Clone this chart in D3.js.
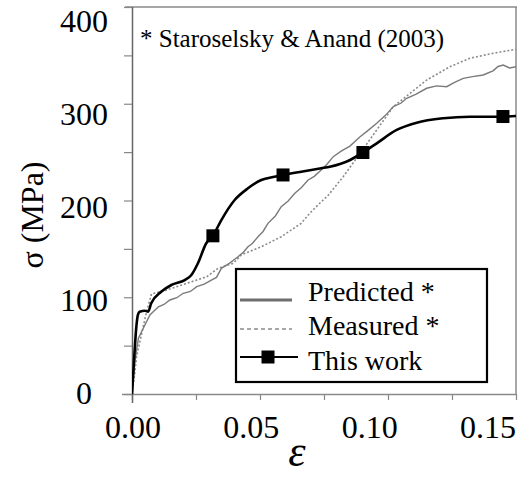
<!DOCTYPE html>
<html>
<head>
<meta charset="utf-8">
<script src="https://cdn.jsdelivr.net/npm/d3@7"></script>
<style>
  html, body { margin: 0; padding: 0; background: #fff; }
  svg { display: block; }
</style>
</head>
<body>
<svg id="chart" width="519" height="477"></svg>
<script>
// ---- data ----
const strainThis = [0, 0.0008, 0.0017, 0.0023, 0.0030, 0.0050, 0.0063, 0.0075, 0.0114, 0.0154, 0.0206, 0.0232, 0.0258, 0.0290, 0.0316, 0.0349, 0.0401, 0.0453, 0.0505, 0.0557, 0.0590, 0.0661, 0.0739, 0.0773, 0.0852, 0.0901, 0.0956, 0.1034, 0.1112, 0.1216, 0.1320, 0.1448, 0.1500];
const stressThis = [0, 35, 69.6, 81.7, 85.1, 86.1, 85.1, 93.7, 105.7, 112.7, 117.8, 123.0, 135.4, 155.8, 163.6, 179.8, 200.5, 212.6, 221.2, 224.6, 226.4, 229.8, 233.3, 234.9, 241.9, 249.4, 259.1, 272.9, 280.4, 285.0, 286.6, 286.6, 287.3];
const markerStrain = [0.0316, 0.0590, 0.0902, 0.1449];
const markerStress = [163.5, 226.4, 249.6, 286.8];

const strainPred = [0, 0.0012, 0.0025, 0.0044, 0.0070, 0.0103, 0.0125, 0.0148, 0.0175, 0.0200, 0.0228, 0.0253, 0.0282, 0.0310, 0.0330, 0.0349, 0.0380, 0.0414, 0.0435, 0.0453, 0.0470, 0.0492, 0.0512, 0.0531, 0.0560, 0.0583, 0.0610, 0.0636, 0.0660, 0.0688, 0.0712, 0.0739, 0.0760, 0.0786, 0.0820, 0.0850, 0.0891, 0.0920, 0.0956, 0.0990, 0.1021, 0.1050, 0.1073, 0.1110, 0.1151, 0.1190, 0.1229, 0.1260, 0.1294, 0.1330, 0.1372, 0.1410, 0.1430, 0.1450, 0.1475, 0.1500];
const stressPred = [0, 35.1, 57.6, 67.9, 81.7, 90.2, 92.5, 97.2, 99.5, 104.1, 106.0, 110.9, 113.5, 117.8, 120.5, 129.9, 135.0, 141.9, 146.5, 152.2, 155.5, 162.6, 168.0, 176.4, 184.0, 193.6, 199.5, 207.4, 213.0, 221.2, 225.0, 231.5, 237.0, 245.3, 251.5, 256.0, 265.9, 272.0, 279.8, 288.0, 297.0, 300.5, 305.6, 310.0, 316.0, 318.5, 317.6, 322.0, 326.3, 328.0, 329.7, 334.0, 338.5, 340.0, 337.0, 338.3];

const strainMeas = [0, 0.0010, 0.0018, 0.0038, 0.0057, 0.0076, 0.0136, 0.0214, 0.0292, 0.0336, 0.0396, 0.0427, 0.0505, 0.0583, 0.0661, 0.0695, 0.0727, 0.0765, 0.0825, 0.0891, 0.0956, 0.1021, 0.1086, 0.1151, 0.1242, 0.1320, 0.1411, 0.1500];
const stressMeas = [0, 19.6, 38.6, 62.7, 85.1, 103.4, 107.5, 114.4, 121.2, 129.9, 135.1, 143.7, 152.2, 162.6, 176.4, 187.0, 195.5, 205.0, 224.6, 248.8, 272.9, 297.0, 310.8, 324.5, 338.3, 347.0, 352.2, 356.3];

const yTickLabels = [0, 100, 200, 300, 400];
const xTickLabels = [0, 0.05, 0.10, 0.15];
const yMinorTicks = [0, 50, 100, 150, 200, 250, 300, 350, 400];
const xMinorTicks = [0, 0.025, 0.05, 0.075, 0.10, 0.125, 0.15];

const legendItems = ["Predicted *", "Measured *", "This work"];

const FONT = "Liberation Serif";

// ---- scales ----
const svg = d3.select("#chart");
const x = d3.scaleLinear().domain([0, 0.15]).range([132, 516]);
const y = d3.scaleLinear().domain([0, 400]).range([394, 7]);
// label placement scales (labels in the original figure are offset from ticks)
const xLab = d3.scaleLinear().domain([0, 0.15]).range([133, 488]);
const yLab = d3.scaleLinear().domain([0, 400]).range([393, 21]);

// clip
svg.append("clipPath").attr("id", "clip").append("rect")
  .attr("x", x(0)).attr("y", y(400)).attr("width", x(0.15) - x(0)).attr("height", y(0) - y(400));

// frame
svg.append("line").attr("x1", 125).attr("x2", x(0.15) + 1).attr("y1", y(400)).attr("y2", y(400))
  .attr("stroke", "#8a8a8a").attr("stroke-width", 1.5);
svg.append("line").attr("x1", x(0.15)).attr("x2", x(0.15)).attr("y1", y(400)).attr("y2", y(0))
  .attr("stroke", "#8a8a8a").attr("stroke-width", 1.5);

// axes
const xAxis = d3.axisBottom(x).tickValues(xMinorTicks).tickSize(6).tickFormat("");
const gx = svg.append("g").attr("transform", `translate(0,${y(0)})`).call(xAxis);
gx.select(".domain").attr("stroke", "#8a8a8a").attr("stroke-width", 1.5).attr("d", `M122,0.5H${x(0.15)}`);
gx.selectAll(".tick line").attr("stroke", "#888").attr("stroke-width", 1.2);

const yAxis = d3.axisLeft(y).tickValues(yMinorTicks).tickSize(8).tickFormat("");
const gy = svg.append("g").attr("transform", `translate(${x(0)},0)`).call(yAxis);
gy.select(".domain").attr("stroke", "#666").attr("stroke-width", 1.5).attr("d", `M0.5,${y(400)}V${y(0) + 9}`);
gy.selectAll(".tick line").attr("stroke", "#888").attr("stroke-width", 1.2);

// tick labels
svg.append("g").selectAll("text").data(yTickLabels).join("text")
  .style("font-family", FONT)
  .attr("x", 84).attr("y", d => yLab(d)).attr("dy", "0.35em")
  .attr("text-anchor", "middle").attr("font-size", 32).text(d => d);
svg.append("g").selectAll("text").data(xTickLabels).join("text")
  .style("font-family", FONT)
  .attr("x", d => xLab(d)).attr("y", 438)
  .attr("text-anchor", "middle").attr("font-size", 32).text(d => d.toFixed(2));

// axis titles
svg.append("text").attr("transform", "translate(43,215) rotate(-90)")
  .style("font-family", FONT)
  .attr("text-anchor", "middle").attr("font-size", 32).text("σ (MPa)");
svg.append("text").attr("x", 297).attr("y", 466).attr("text-anchor", "middle")
  .style("font-family", FONT)
  .attr("font-size", 44).attr("font-style", "italic").text("ε");

// annotation
svg.append("text").attr("x", 140).attr("y", 47).attr("font-size", 25)
  .style("font-family", FONT)
  .text("* Staroselsky & Anand (2003)");

// curves
const plot = svg.append("g").attr("clip-path", "url(#clip)");
const lineLinear = d3.line().x(d => x(d[0])).y(d => y(d[1]));
const lineSmooth = d3.line().x(d => x(d[0])).y(d => y(d[1])).curve(d3.curveMonotoneX);

const predPts = strainPred.map((s, i) => [s, stressPred[i]]);
const measPts = strainMeas.map((s, i) => [s, stressMeas[i]]);
const thisPts = strainThis.map((s, i) => [s, stressThis[i]]);

plot.append("path").attr("d", lineLinear(measPts)).attr("fill", "none")
  .attr("stroke", "#8c8c8c").attr("stroke-width", 1.6).attr("stroke-dasharray", "2,2");
plot.append("path").attr("d", lineLinear(predPts)).attr("fill", "none")
  .attr("stroke", "#7a7a7a").attr("stroke-width", 1.4);
plot.append("path").attr("d", lineSmooth(thisPts)).attr("fill", "none")
  .attr("stroke", "#000").attr("stroke-width", 2.6);

const ms = 13;
plot.append("g").selectAll("rect").data(markerStrain.map((s, i) => [s, markerStress[i]])).join("rect")
  .attr("x", d => x(d[0]) - ms / 2).attr("y", d => y(d[1]) - ms / 2)
  .attr("width", ms).attr("height", ms).attr("fill", "#000");

// legend
const lg = svg.append("g");
lg.append("rect").attr("x", 236).attr("y", 269).attr("width", 251).attr("height", 113)
  .attr("fill", "#fff").attr("stroke", "#000").attr("stroke-width", 2.2);
const rowY = [300, 329, 357];
const textY = [301, 335, 370];
lg.append("line").attr("x1", 240).attr("x2", 292).attr("y1", rowY[0]).attr("y2", rowY[0])
  .attr("stroke", "#6e6e6e").attr("stroke-width", 3);
lg.append("line").attr("x1", 240).attr("x2", 292).attr("y1", rowY[1]).attr("y2", rowY[1])
  .attr("stroke", "#8c8c8c").attr("stroke-width", 1.3).attr("stroke-dasharray", "4,3");
lg.append("line").attr("x1", 240).attr("x2", 298).attr("y1", rowY[2]).attr("y2", rowY[2])
  .attr("stroke", "#000").attr("stroke-width", 2);
lg.append("rect").attr("x", 268 - 6.5).attr("y", rowY[2] - 6.5).attr("width", 13).attr("height", 13).attr("fill", "#000");
lg.selectAll("text.lt").data(legendItems).join("text").attr("class", "lt")
  .style("font-family", FONT)
  .attr("x", 308).attr("y", (d, i) => textY[i]).attr("font-size", 28).text(d => d);
</script>
</body>
</html>
